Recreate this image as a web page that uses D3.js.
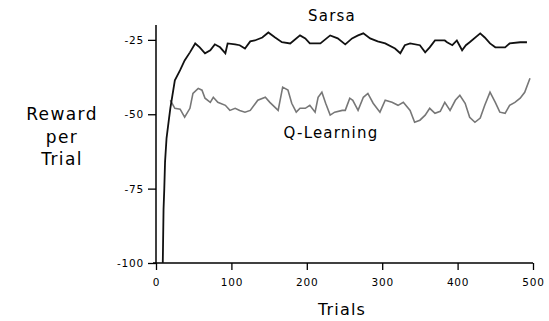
<!DOCTYPE html>
<html>
<head>
<meta charset="utf-8">
<script src="https://cdn.jsdelivr.net/npm/d3@7"></script>
<style>
  html, body { margin: 0; padding: 0; background: #fff; }
  svg { display: block; font-family: "DejaVu Sans", Verdana, sans-serif; }
</style>
</head>
<body>
<svg id="chart" width="549" height="321"></svg>
<script>
// ---- data ----
const xTicks = [0, 100, 200, 300, 400, 500];
const yTicks = [-25, -50, -75, -100];
const seriesNames = ["Sarsa", "Q-Learning"];

const sarsaTrials = [9, 10, 11, 12, 14, 17, 19, 25, 32, 38, 45, 52, 58, 65, 72, 78, 85, 92, 95, 105, 111, 118, 125, 131, 141, 149, 158, 167, 178, 191, 198, 204, 218, 231, 241, 251, 260, 268, 275, 284, 294, 304, 317, 324, 330, 337, 350, 357, 363, 370, 383, 386, 393, 399, 406, 411, 416, 430, 436, 443, 450, 463, 469, 483, 492];
const sarsaReward = [-100, -82, -75, -66, -58, -52, -48, -38.6, -35.2, -31.9, -29.2, -26.2, -27.5, -29.5, -28.5, -26.5, -27.5, -29.5, -26.2, -26.5, -26.8, -27.9, -25.5, -25.2, -24.2, -22.5, -24.2, -25.8, -26.2, -23.5, -24.5, -26.2, -26.2, -23.5, -24.5, -26.5, -24.5, -23.5, -22.8, -24.5, -25.5, -26.2, -27.9, -29.5, -26.8, -26.2, -26.8, -29.2, -27.5, -25.2, -25.2, -25.8, -26.8, -25.2, -28.5, -26.8, -25.8, -22.8, -24.2, -26.2, -27.5, -27.5, -26.2, -25.8, -25.8];

const qTrials = [19, 25, 32, 38, 45, 49, 56, 61, 65, 72, 76, 82, 92, 98, 105, 111, 118, 125, 135, 145, 151, 162, 168, 175, 180, 186, 191, 198, 204, 211, 215, 220, 225, 231, 237, 247, 251, 257, 261, 268, 275, 281, 288, 297, 304, 313, 321, 328, 337, 343, 350, 357, 363, 370, 377, 383, 390, 397, 403, 410, 416, 423, 430, 436, 443, 450, 456, 463, 469, 476, 483, 489, 496];
const qReward = [-45.3, -48, -48.3, -51, -48, -43, -41.3, -41.9, -44.6, -46, -44.3, -46, -47, -48.7, -48, -48.7, -49.3, -48.7, -45.3, -44.3, -46, -48.7, -40.9, -41.9, -46.3, -49.3, -48, -48, -47, -49.3, -44.3, -42.6, -46.3, -50.3, -49.3, -48.7, -48.7, -44.6, -45.3, -48.7, -44.3, -43, -46.3, -49.3, -45.3, -46, -47, -46, -48.7, -52.7, -52, -50.3, -48, -49.7, -49, -46, -48.7, -45.3, -43.6, -46.3, -51, -52.7, -51.3, -47, -42.6, -46, -49.3, -49.7, -47, -46, -44.6, -42.6, -37.9];

// ---- layout ----
const svg = d3.select("#chart");
const x = d3.scaleLinear().domain([0, 500]).range([156, 533]);
const y = d3.scaleLinear().domain([-100, -20]).range([263, 25]);
const fmt = d => String(d); // plain hyphen-minus as in the reference

const xAxis = d3.axisBottom(x).tickValues(xTicks).tickSize(7).tickPadding(9).tickFormat(fmt);
const yAxis = d3.axisLeft(y).tickValues(yTicks).tickSize(8).tickPadding(4).tickFormat(fmt);

const gx = svg.append("g").attr("transform", `translate(0,${y(-100)})`).call(xAxis);
const gy = svg.append("g").attr("transform", `translate(${x(0)},0)`).call(yAxis);
[gx, gy].forEach(g => {
  g.select(".domain").attr("stroke", "#000").attr("stroke-width", 1.5);
  g.selectAll(".tick line").attr("stroke", "#000").attr("stroke-width", 1.3);
  g.selectAll(".tick text").attr("fill", "#000").attr("font-size", 10.5)
    .attr("letter-spacing", 0.8).attr("font-family", "\"DejaVu Sans\", Verdana, sans-serif");
});
gx.select(".domain").attr("d", `M${x(0) - 3},0H${x(500)}`);
gy.select(".domain").attr("d", `M0,${y(-20)}V${y(-100)}`);

// ---- lines ----
const line = d3.line().x(d => x(d[0])).y(d => y(d[1]));
const sarsa = sarsaTrials.map((t, i) => [t, sarsaReward[i]]);
const qlearn = qTrials.map((t, i) => [t, qReward[i]]);

svg.append("path").datum(qlearn).attr("d", line)
  .attr("fill", "none").attr("stroke", "#777").attr("stroke-width", 1.6).attr("stroke-linejoin", "miter");
svg.append("path").datum(sarsa).attr("d", line)
  .attr("fill", "none").attr("stroke", "#111").attr("stroke-width", 1.8).attr("stroke-linejoin", "miter");

// ---- labels ----
svg.append("text").attr("x", 332).attr("y", 21).attr("text-anchor", "middle")
  .attr("font-size", 15).attr("letter-spacing", 1.2).text(seriesNames[0]);
svg.append("text").attr("x", 331).attr("y", 138).attr("text-anchor", "middle")
  .attr("font-size", 15).attr("letter-spacing", 1.2).text(seriesNames[1]);

const yl = svg.append("text").attr("text-anchor", "middle").attr("font-size", 17).attr("letter-spacing", 1.4);
["Reward", "per", "Trial"].forEach((s, i) => {
  yl.append("tspan").attr("x", 62).attr("y", 120 + i * 22.5).text(s);
});
svg.append("text").attr("x", 342).attr("y", 315).attr("text-anchor", "middle")
  .attr("font-size", 16).attr("letter-spacing", 1.2).text("Trials");
</script>
</body>
</html>
